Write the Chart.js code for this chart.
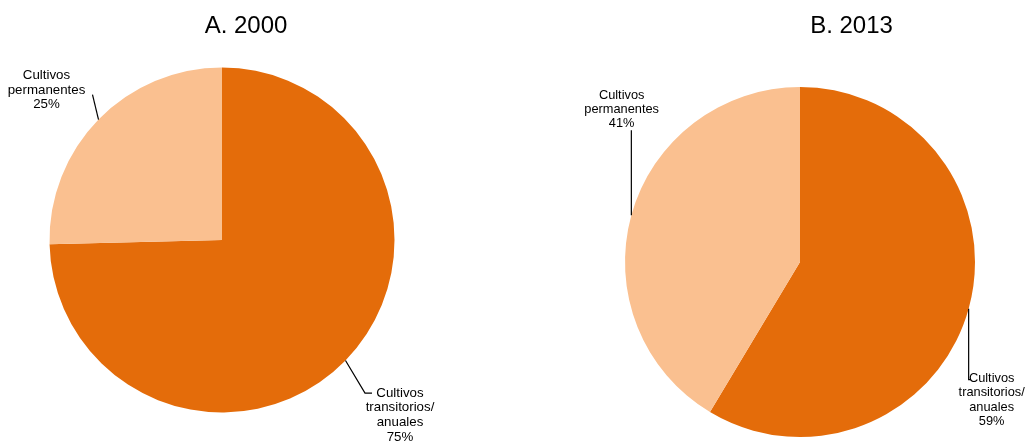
<!DOCTYPE html>
<html>
<head>
<meta charset="utf-8">
<script src="https://cdn.jsdelivr.net/npm/chart.js@4/dist/chart.umd.min.js"></script>
<style>
  html, body { margin: 0; padding: 0; background: #ffffff; }
  #wrap { position: relative; width: 1026px; height: 443px; overflow: hidden; }
  canvas { position: absolute; top: 0; }
</style>
</head>
<body>
<div id="wrap">
  <canvas id="c1" width="513" height="443" style="left:0px"></canvas>
  <canvas id="c2" width="513" height="443" style="left:513px"></canvas>
</div>
<script>
// ---- data ----
const categories = ['Cultivos transitorios/anuales', 'Cultivos permanentes'];
const categoryLines = [['Cultivos', 'transitorios/', 'anuales'], ['Cultivos', 'permanentes']];
const titles = ['A. 2000', 'B. 2013'];
const values2000 = [74.6, 25.4];
const values2013 = [58.6, 41.4];
const colors = ['#E46C0A', '#FAC090'];

// ---- leader-line label plugin ----
const leaderPlugin = {
  id: 'leader',
  afterDraw(chart, args, opts) {
    const ctx = chart.ctx;
    ctx.save();
    // title
    ctx.fillStyle = '#000000';
    ctx.font = '24px "Liberation Sans", Arial, sans-serif';
    ctx.textAlign = 'center';
    ctx.textBaseline = 'middle';
    ctx.fillText(opts.title, opts.titleX, opts.titleY);

    const meta = chart.getDatasetMeta(0);
    const data = chart.data.datasets[0].data;
    meta.data.forEach((arc, i) => {
      const spec = opts.labels[i];
      const p = arc.getProps(['x', 'y', 'startAngle', 'endAngle', 'outerRadius'], true);
      const mid = (p.startAngle + p.endAngle) / 2;
      const ex = p.x + Math.cos(mid) * p.outerRadius;
      const ey = p.y + Math.sin(mid) * p.outerRadius;
      // leader line
      ctx.strokeStyle = '#000000';
      ctx.lineWidth = 1.2;
      ctx.beginPath();
      ctx.moveTo(ex, ey);
      spec.path.forEach(pt => ctx.lineTo(ex + pt[0], ey + pt[1]));
      ctx.stroke();
      // text
      const lines = categoryLines[i].concat([Math.round(data[i]) + '%']);
      ctx.fillStyle = '#000000';
      ctx.font = spec.font + 'px "Liberation Sans", Arial, sans-serif';
      ctx.textAlign = 'center';
      ctx.textBaseline = 'middle';
      lines.forEach((t, k) => {
        ctx.fillText(t, ex + spec.tx, ey + spec.ty + k * spec.lh);
      });
    });
    ctx.restore();
  }
};

function makePie(id, values, padding, pluginOpts) {
  return new Chart(document.getElementById(id), {
    type: 'pie',
    data: {
      labels: categories,
      datasets: [{
        data: values,
        backgroundColor: colors,
        borderWidth: 0
      }]
    },
    options: {
      responsive: false,
      animation: false,
      devicePixelRatio: 1,
      layout: { padding: padding },
      plugins: {
        legend: { display: false },
        tooltip: { enabled: false },
        title: { display: false },
        leader: pluginOpts
      }
    },
    plugins: [leaderPlugin]
  });
}

makePie('c1', values2000,
  { left: 49.5, right: 118.5, top: 67.5, bottom: 30.5 },
  {
    title: titles[0], titleX: 246, titleY: 26,
    labels: [
      { path: [[19.5, 32.6], [26.5, 32.6]], tx: 54.5, ty: 32.6, lh: 14.7, font: 13.3 },
      { path: [[-6, -25]], tx: -52, ty: -44.3, lh: 14.7, font: 13.3 }
    ]
  });

makePie('c2', values2013,
  { left: 112, right: 51, top: 87, bottom: 6 },
  {
    title: titles[1], titleX: 338.5, titleY: 26.5,
    labels: [
      { path: [[0, 71], [2, 71]], tx: 23, ty: 69.5, lh: 14.4, font: 12.8 },
      { path: [[0, -85]], tx: -9.7, ty: -120.2, lh: 14.2, font: 12.8 }
    ]
  });
</script>
</body>
</html>
